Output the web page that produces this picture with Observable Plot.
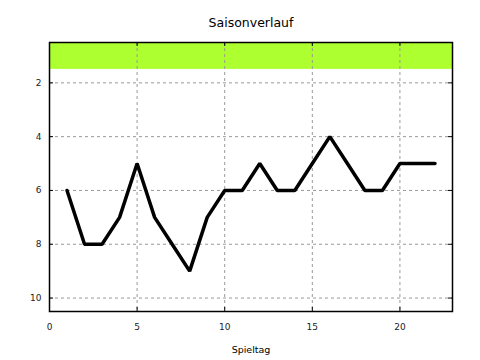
<!DOCTYPE html>
<html><head><meta charset="utf-8">
<script src="https://cdn.jsdelivr.net/npm/d3@7"></script>
<script src="https://cdn.jsdelivr.net/npm/@observablehq/plot@0.6"></script>
<style>body{margin:0;background:#fff;} svg{display:block;}</style>
</head><body><div id="c"></div>
<script>
const spieltag = [1,2,3,4,5,6,7,8,9,10,11,12,13,14,15,16,17,18,19,20,21,22];
const platz = [6,8,8,7,5,7,8,9,7,6,6,5,6,6,5,4,5,6,6,5,5,5];
const xTicks = [0,5,10,15,20];
const yTicks = [2,4,6,8,10];
const band = [{y1: 0.5, y2: 1.5}];
const title = "Saisonverlauf";
const xLabel = "Spieltag";

const data = spieltag.map((d,i)=>({x:d, y:platz[i]}));
const W=480,H=360,mL=49,mR=28,mT=42,mB=49;
const fw=W-mL-mR, fh=H-mT-mB;

const chart = Plot.plot({
  width: W, height: H,
  marginLeft: mL, marginRight: mR, marginTop: mT, marginBottom: mB,
  style: {fontFamily: "DejaVu Sans, sans-serif", fontSize: "9px", color: "#222", background: "#fff"},
  x: {domain: [0,23], ticks: xTicks, tickSize: 0, tickPadding: 12, label: null},
  y: {domain: [0.5,10.5], reverse: true, ticks: yTicks, tickSize: 0, tickPadding: 8, label: null},
  marks: [
    Plot.rectY(band, {y1: "y1", y2: "y2", fill: "#adff2f"}),
    Plot.ruleX(xTicks.filter(d=>d>0), {x: d=>d, stroke: "#999", strokeDasharray: "3,3", strokeWidth: 1}),
    Plot.ruleY(yTicks, {y: d=>d, stroke: "#999", strokeDasharray: "3,3", strokeWidth: 1}),
    Plot.tickX(xTicks, {x: d=>d, insetTop: fh-4, stroke: "#000"}),
    Plot.tickX(xTicks, {x: d=>d, insetBottom: fh-4, stroke: "#000"}),
    Plot.tickY(yTicks, {y: d=>d, insetRight: fw-4, stroke: "#000"}),
    Plot.tickY(yTicks, {y: d=>d, insetLeft: fw-4, stroke: "#000"}),
    Plot.line(data, {x: "x", y: "y", stroke: "#000", strokeWidth: 3.5, strokeLinejoin: "miter"}),
    Plot.frame({stroke: "#000", strokeWidth: 1.5}),
    Plot.text([title], {frameAnchor: "top", dy: -16, text: d=>d, fontSize: 12.5, fill: "#000", lineAnchor: "bottom"}),
    Plot.text([xLabel], {frameAnchor: "bottom", dy: 41, text: d=>d, fontSize: 9.5, fill: "#000"})
  ]
});
document.getElementById("c").appendChild(chart);
</script></body></html>
